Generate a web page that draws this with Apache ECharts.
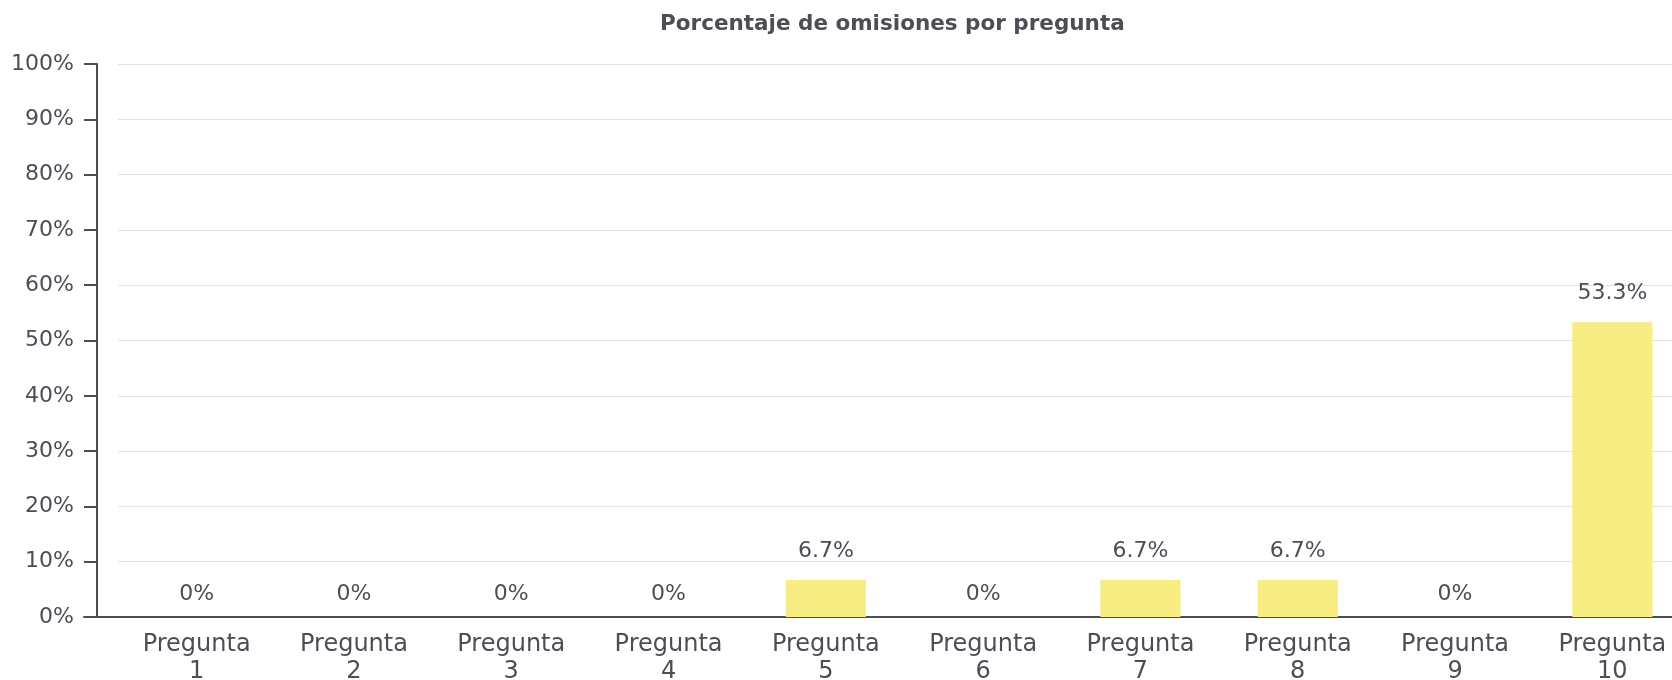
<!DOCTYPE html>
<html>
<head>
<meta charset="utf-8">
<style>
  html, body { margin: 0; padding: 0; background: #ffffff; }
  #chart { width: 1672px; height: 680px; }
</style>
<script src="https://cdn.jsdelivr.net/npm/echarts@6/dist/echarts.min.js"></script>
</head>
<body>
<div id="chart"></div>
<script>
const titleText = "Porcentaje de omisiones por pregunta";
const categories = ["Pregunta 1", "Pregunta 2", "Pregunta 3", "Pregunta 4", "Pregunta 5",
                    "Pregunta 6", "Pregunta 7", "Pregunta 8", "Pregunta 9", "Pregunta 10"];
const omissionPct = [0, 0, 0, 0, 6.7, 0, 6.7, 6.7, 0, 53.3];
const yTicks = [0, 10, 20, 30, 40, 50, 60, 70, 80, 90, 100];

const textColor = "#4d4d57";
const fontFam = "'DejaVu Sans', sans-serif";

const chart = echarts.init(document.getElementById('chart'), null, { renderer: 'canvas' });

const option = {
  backgroundColor: '#ffffff',
  animation: false,
  title: {
    text: titleText,
    left: 655,
    top: 8,
    textStyle: { fontFamily: fontFam, fontSize: 21.5, fontWeight: 'bold', color: textColor }
  },
  grid: [
    { left: 118, top: 64, bottom: 63, width: 1573, containLabel: false, outerBoundsMode: 'none' },
    { left: 84, top: 64, bottom: 63, right: 0, containLabel: false, outerBoundsMode: 'none' }
  ],
  xAxis: [
    {
      type: 'category',
      gridIndex: 0,
      data: categories,
      axisLine: { show: false },
      axisTick: { show: false },
      axisLabel: {
        margin: 14,
        fontFamily: fontFam,
        fontSize: 24,
        lineHeight: 27,
        color: textColor,
        interval: 0,
        formatter: function (v) { return v.replace(' ', '\n'); }
      }
    },
    {
      type: 'value',
      gridIndex: 1,
      min: 0, max: 1,
      axisLine: { show: true, onZero: false, lineStyle: { color: '#4d4d57', width: 2 } },
      axisTick: { show: false },
      axisLabel: { show: false },
      splitLine: { show: false }
    }
  ],
  yAxis: [
    {
      type: 'value',
      gridIndex: 0,
      min: yTicks[0],
      max: yTicks[yTicks.length - 1],
      interval: 10,
      offset: 21,
      axisLine: { show: true, lineStyle: { color: '#4d4d57', width: 2 } },
      axisTick: { show: true, length: 13, lineStyle: { color: '#4d4d57', width: 2 } },
      axisLabel: {
        margin: 23,
        fontFamily: fontFam,
        fontSize: 22,
        color: textColor,
        padding: [4, 0, 0, 0],
        formatter: function (v) { return v + '%'; }
      },
      splitLine: { show: true, lineStyle: { color: '#e2e2e2', width: 1 } }
    },
    {
      type: 'value',
      gridIndex: 1,
      show: false,
      min: 0, max: 1
    }
  ],
  series: [
    {
      type: 'bar',
      xAxisIndex: 0,
      yAxisIndex: 0,
      barWidth: '51%',
      itemStyle: { color: '#f7ed82' },
      data: omissionPct.map(function (v) {
        return {
          value: v,
          label: { distance: v === 0 ? 12 : 18 }
        };
      }),
      label: {
        show: true,
        position: 'top',
        fontFamily: fontFam,
        fontSize: 22,
        color: textColor,
        formatter: function (p) { return p.value + '%'; }
      }
    }
  ]
};

chart.setOption(option);
</script>
</body>
</html>
